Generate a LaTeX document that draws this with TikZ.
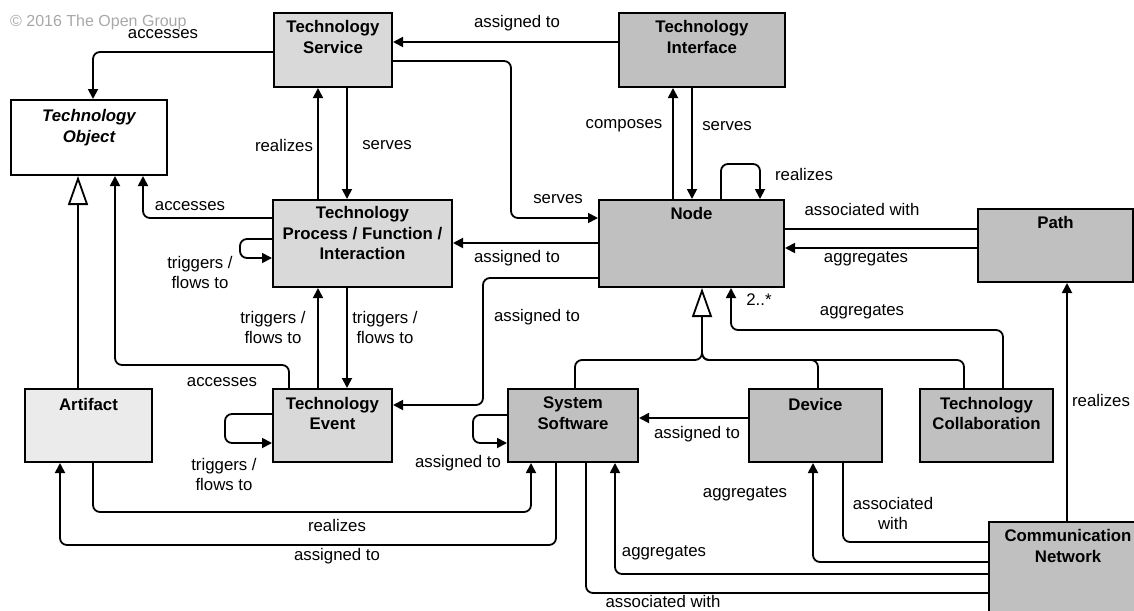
\documentclass[tikz,border=0pt]{standalone}
\usepackage{fontspec}
\setmainfont{Liberation Sans}
\usetikzlibrary{arrows.meta}
\definecolor{lg}{HTML}{D9D9D9}
\definecolor{mg}{HTML}{C0C0C0}
\definecolor{vg}{HTML}{EBEBEB}
\definecolor{cpy}{HTML}{A8A8A8}
\begin{document}
\begin{tikzpicture}[x=1pt,y=-1pt,
  box/.style={draw, line width=2pt, inner sep=0pt, anchor=center},
  ttl/.style={anchor=north, inner sep=0pt, align=center, font=\fontsize{16.8}{20.5}\selectfont\bfseries},
  lab/.style={inner sep=0pt, align=center, font=\fontsize{16.8}{20}\selectfont},
  con/.style={line width=1.8pt, rounded corners=7pt},
  arr/.style={con, -{Triangle[length=10pt,width=10pt]}},
  gen/.style={line width=1.8pt, -{Triangle[open,length=29pt,width=20pt]}},
]
\useasboundingbox (0,0) rectangle (1134,610);
\clip (0,0) rectangle (1134,610);

\node[anchor=west, inner sep=0pt, text=cpy, font=\fontsize{16}{19}\selectfont] (cp) at (10,22) {© 2016 The Open Group};

% boxes
\node[box, fill=lg, minimum width=118, minimum height=74] (svc) at (333,50) {};
\node[box, fill=mg, minimum width=166, minimum height=74] (itf) at (702,50) {};
\node[box, fill=white, minimum width=156, minimum height=75] (obj) at (89,137.5) {};
\node[box, fill=lg, minimum width=179, minimum height=87] (proc) at (362.5,243.5) {};
\node[box, fill=mg, minimum width=185, minimum height=87] (nd) at (691.5,243.5) {};
\node[box, fill=mg, minimum width=155, minimum height=73] (path) at (1055.5,245.5) {};
\node[box, fill=vg, minimum width=127, minimum height=73] (art) at (88.5,425.5) {};
\node[box, fill=lg, minimum width=119, minimum height=73] (evt) at (332.5,425.5) {};
\node[box, fill=mg, minimum width=130, minimum height=73] (sys) at (573,425.5) {};
\node[box, fill=mg, minimum width=133, minimum height=73] (dev) at (815.5,425.5) {};
\node[box, fill=mg, minimum width=133, minimum height=73] (col) at (986.5,425.5) {};
\node[box, fill=mg, minimum width=158, minimum height=92] (cn) at (1068,568) {};

% box titles
\node[ttl] (svc-t) at ([yshift=-8.5pt]svc.north) {Technology\\Service};
\node[ttl] (itf-t) at ([yshift=-8.5pt]itf.north) {Technology\\Interface};
\node[ttl, font=\fontsize{16.8}{20.5}\selectfont\bfseries\itshape] (obj-t) at ([yshift=-10.5pt]obj.north) {Technology\\Object};
\node[ttl] (proc-t) at ([yshift=-7.5pt]proc.north) {Technology\\Process / Function /\\Interaction};
\node[ttl] (nd-t) at ([yshift=-8.5pt]nd.north) {Node};
\node[ttl] (path-t) at ([yshift=-8.5pt]path.north) {Path};
\node[ttl] (art-t) at ([yshift=-10pt]art.north) {Artifact};
\node[ttl] (evt-t) at ([yshift=-9pt]evt.north) {Technology\\Event};
\node[ttl] (sys-t) at ([yshift=-9pt]sys.north) {System\\Software};
\node[ttl] (dev-t) at ([yshift=-10pt]dev.north) {Device};
\node[ttl] (col-t) at ([yshift=-9pt]col.north) {Technology\\Collaboration};
\node[ttl] (cn-t) at ([yshift=-8.5pt]cn.north) {Communication\\Network};

% connectors
\draw[arr] (svc.west |- 0,52) -- (93,52) -- (obj.north -| 93,0);
\draw[arr] (itf.west |- 0,42) -- (svc.east |- 0,42);
\draw[arr] (svc.east |- 0,61) -- (511,61) -- (511,218) -- (nd.west |- 0,218);
\draw[arr] (proc.north -| 318,0) -- (svc.south -| 318,0);
\draw[arr] (svc.south -| 347,0) -- (proc.north -| 347,0);
\draw[arr] (nd.north -| 673,0) -- (itf.south -| 673,0);
\draw[arr] (itf.south -| 692,0) -- (nd.north -| 692,0);
\draw[arr] (nd.north -| 721,0) -- (721,164) -- (760,164) -- (nd.north -| 760,0);
\draw[arr] (proc.west |- 0,218) -- (143,218) -- (obj.south -| 143,0);
\draw[arr] (proc.west |- 0,239) -- (240,239) -- (240,258) -- (proc.west |- 0,258);
\draw[arr] (nd.west |- 0,243) -- (proc.east |- 0,243);
\draw[arr] (nd.west |- 0,278) -- (483,278) -- (483,405) -- (evt.east |- 0,405);
\draw[arr] (evt.north -| 318,0) -- (proc.south -| 318,0);
\draw[arr] (proc.south -| 347,0) -- (evt.north -| 347,0);
\draw[arr] (evt.north -| 289,0) -- (289,365) -- (115,365) -- (obj.south -| 115,0);
\draw[gen] (art.north -| 78,0) -- (obj.south -| 78,0);
\draw[arr] (evt.west |- 0,414) -- (225,414) -- (225,443) -- (evt.west |- 0,443);
\draw[arr] (art.south -| 93,0) -- (93,512) -- (531,512) -- (sys.south -| 531,0);
\draw[arr] (sys.south -| 556,0) -- (556,545) -- (60,545) -- (art.south -| 60,0);
\draw[arr] (sys.west |- 0,415) -- (473,415) -- (473,443) -- (sys.west |- 0,443);
\draw[arr] (dev.west |- 0,418) -- (sys.east |- 0,418);
\draw[con] (sys.north -| 575,0) -- (575,360) -- (702,360) -- (702,335);
\draw[con] (dev.north -| 818,0) -- (818,360) -- (702,360) -- (702,335);
\draw[con] (col.north -| 964,0) -- (964,360) -- (702,360) -- (702,335);
\draw[gen] (702,340) -- (nd.south -| 702,0);
\draw[arr] (col.north -| 1003,0) -- (1003,330) -- (731,330) -- (nd.south -| 731,0);
\draw[con] (path.west |- 0,229) -- (nd.east |- 0,229);
\draw[arr] (path.west |- 0,248) -- (nd.east |- 0,248);
\draw[arr] (cn.north -| 1067,0) -- (path.south -| 1067,0);
\draw[con] (cn.west |- 0,542) -- (843,542) -- (dev.south -| 843,0);
\draw[arr] (cn.west |- 0,562) -- (813,562) -- (dev.south -| 813,0);
\draw[arr] (cn.west |- 0,574) -- (615,574) -- (sys.south -| 615,0);
\draw[con] (cn.west |- 0,593) -- (586,593) -- (sys.south -| 586,0);

% labels
\node[lab] (l1) at (163,34) {accesses};
\node[lab] (l2) at (517,23) {assigned to};
\node[lab] (l3) at (284,145) {realizes};
\node[lab] (l4) at (387,145) {serves};
\node[lab] (l5) at (624,126) {composes};
\node[lab] (l6) at (727,126) {serves};
\node[lab] (l7) at (804,174) {realizes};
\node[lab] (l8) at (558,199) {serves};
\node[lab] (l9) at (190,206) {accesses};
\node[lab] (l10) at (200,272) {triggers /\\flows to};
\node[lab] (l11) at (517,258) {assigned to};
\node[lab] (l12) at (537,317) {assigned to};
\node[lab] (l13) at (273,327) {triggers /\\flows to};
\node[lab] (l14) at (385,327) {triggers /\\flows to};
\node[lab] (l15) at (222,382) {accesses};
\node[lab] (l16) at (224,474) {triggers /\\flows to};
\node[lab] (l17) at (337,525) {realizes};
\node[lab] (l18) at (337,556) {assigned to};
\node[lab] (l19) at (458,463) {assigned to};
\node[lab] (l20) at (697,434) {assigned to};
\node[lab] (l21) at (745,494) {aggregates};
\node[lab] (l22) at (664,553) {aggregates};
\node[lab] (l23) at (663,601) {associated with};
\node[lab] (l24) at (893,513) {associated\\with};
\node[lab] (l25) at (1101,400) {realizes};
\node[lab] (l26) at (862,209) {associated with};
\node[lab] (l27) at (866,259) {aggregates};
\node[lab] (l28) at (862,312) {aggregates};
\node[lab] (l29) at (759,300) {2..*};
\end{tikzpicture}
\end{document}
